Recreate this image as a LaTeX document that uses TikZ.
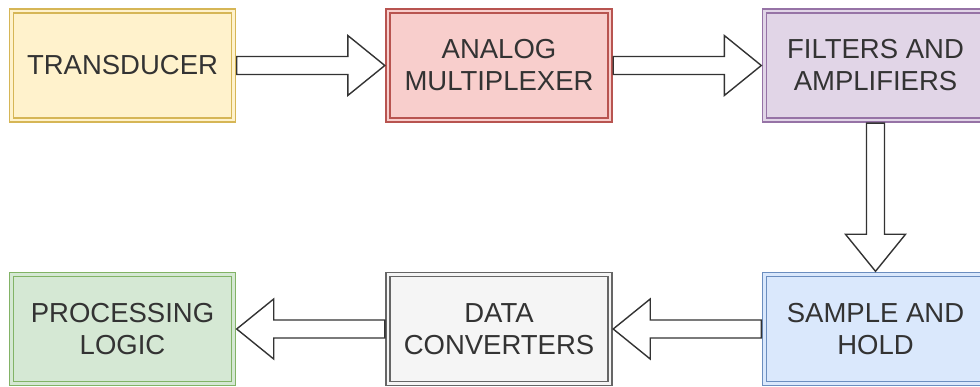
\documentclass[tikz,border=0pt]{standalone}
\usepackage{fontspec}
\setmainfont{Liberation Sans}
\usetikzlibrary{calc}
\definecolor{txt}{HTML}{333333}
\definecolor{ylwF}{HTML}{FFF2CC}\definecolor{ylwD}{HTML}{D6B656}
\definecolor{redF}{HTML}{F8CECC}\definecolor{redD}{HTML}{B85450}
\definecolor{purF}{HTML}{E1D5E7}\definecolor{purD}{HTML}{9673A6}
\definecolor{bluF}{HTML}{DAE8FC}\definecolor{bluD}{HTML}{6C8EBF}
\definecolor{gryF}{HTML}{F5F5F5}\definecolor{gryD}{HTML}{666666}
\definecolor{grnF}{HTML}{D5E8D4}\definecolor{grnD}{HTML}{82B366}
\begin{document}
\begin{tikzpicture}[x=1pt,y=-1pt,
  block/.style={draw=#1D, fill=#1F, line width=1.4pt, double=#1F, double distance=2.4pt,
    minimum width=222pt, minimum height=109pt, inner sep=0pt, align=center,
    text=txt, font=\fontsize{27.5}{32}\selectfont},
  flex/.style={draw=black!80, fill=white, line width=1.4pt, line join=miter}]
\useasboundingbox (0,0) rectangle (980,387);
% blocks
\node[block=ylw] (tr) at (122.5,65.5) {TRANSDUCER};
\node[block=red] (mux) at (499,65.5) {ANALOG\\MULTIPLEXER};
\node[block=pur] (fil) at (875.5,65.5) {FILTERS AND\\AMPLIFIERS};
\node[block=blu] (sh) at (875.5,329) {SAMPLE AND\\HOLD};
\node[block=gry] (dc) at (499,329) {DATA\\CONVERTERS};
\node[block=grn] (pl) at (122.5,329) {PROCESSING\\LOGIC};
% hollow block arrows: shaft half-width 9, head half-width 30, head length 37
\newcommand{\harrow}[3]{% start, tip, direction (+1 right, -1 left)
  \draw[flex] ($(#1)+(0,-9)$) -- ($(#2)+(-37*#3,-9)$) -- ($(#2)+(-37*#3,-30)$) -- (#2)
    -- ($(#2)+(-37*#3,30)$) -- ($(#2)+(-37*#3,9)$) -- ($(#1)+(0,9)$) -- cycle;}
\coordinate (a1s) at ($(tr.east)+(2.5,0)$);  \coordinate (a1e) at ($(mux.west)+(-2.5,0)$);
\coordinate (a2s) at ($(mux.east)+(2.5,0)$); \coordinate (a2e) at ($(fil.west)+(-2.5,0)$);
\coordinate (a4s) at ($(sh.west)+(-2.5,0)$); \coordinate (a4e) at ($(dc.east)+(2.5,0)$);
\coordinate (a5s) at ($(dc.west)+(-2.5,0)$); \coordinate (a5e) at ($(pl.east)+(2.5,0)$);
\harrow{a1s}{a1e}{1}
\harrow{a2s}{a2e}{1}
\harrow{a4s}{a4e}{-1}
\harrow{a5s}{a5e}{-1}
% vertical arrow
\coordinate (a3s) at ($(fil.south)+(0,2.5)$); \coordinate (a3e) at ($(sh.north)+(0,-2.5)$);
\draw[flex] ($(a3s)+(-9,0)$) -- ($(a3e)+(-9,-37)$) -- ($(a3e)+(-30,-37)$) -- (a3e)
  -- ($(a3e)+(30,-37)$) -- ($(a3e)+(9,-37)$) -- ($(a3s)+(9,0)$) -- cycle;
\end{tikzpicture}
\end{document}
